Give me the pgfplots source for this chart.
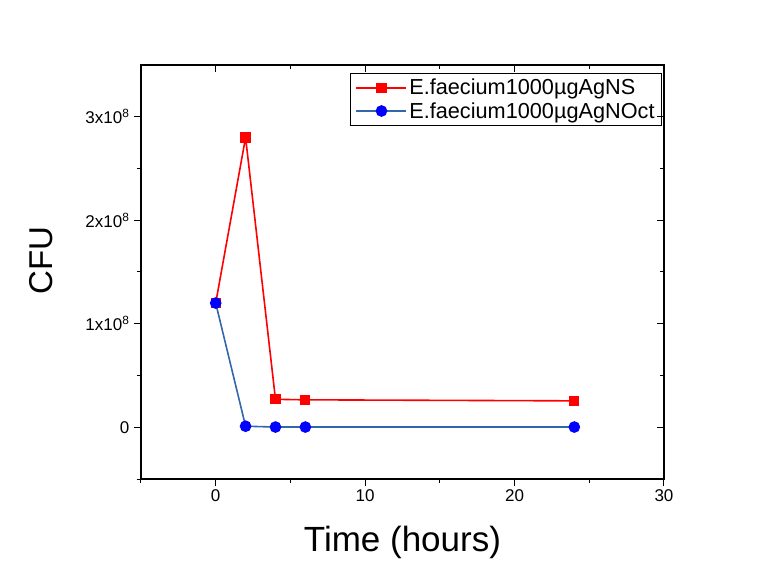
\documentclass[border=0pt]{standalone}
\usepackage{pgfplots}
\pgfplotsset{compat=1.18}
\usepackage{fontspec}
\setmainfont{Liberation Sans}
\setsansfont{Liberation Sans}
\definecolor{rline}{RGB}{255,0,0}
\definecolor{bline}{RGB}{51,102,170}
\definecolor{bmark}{RGB}{0,0,255}

\begin{document}
\begin{tikzpicture}
\useasboundingbox (0pt,0pt) rectangle (757pt,570pt);
% axis box: x 141..664, y(from bottom) 91..505 ; data (0,0) sits at (215.7,142.75)
\pgfplotsset{
  common/.style={
    at={(215.7pt,142.75pt)}, anchor=origin,
    scale only axis, width=523pt, height=414pt,
    xmin=-5, xmax=30, ymin=-0.5e8, ymax=3.5e8,
    xtick={0,10,20,30}, minor xtick={-5,5,15,25},
    ytick={0,1e8,2e8,3e8}, minor ytick={-0.5e8,0.5e8,1.5e8,2.5e8},
    axis line style={line width=1.2pt},
    major tick length=7pt, minor tick length=4pt,
    every tick/.style={black, line width=1pt},
    scaled y ticks=false,
  }
}
\begin{axis}[common,
  tick align=outside, xtick pos=bottom, ytick pos=left,
  /pgf/number format/assume math mode=true,
  tick label style={font=\fontsize{17}{20}\selectfont},
  yticklabel style={xshift=-1pt},
  yticklabels={0,1x10\textsuperscript{8},2x10\textsuperscript{8},3x10\textsuperscript{8}},
  xlabel={Time (hours)},
  ylabel={CFU},
  xlabel style={font=\fontsize{35}{40}\selectfont, at={(axis description cs:0.5,-0.176)}, anchor=base},
  ylabel style={font=\fontsize{33}{38}\selectfont, at={(axis description cs:-0.191,0.527)}, anchor=center},
  legend style={at={(axis description cs:0.996,0.981)}, anchor=north east,
    font=\fontsize{21.7}{24}\selectfont, draw=black, line width=0.6pt,
    inner xsep=5pt, inner ysep=4pt, row sep=2pt, cells={anchor=west}},
  legend image code/.code={%
    \draw[mark repeat=2,mark phase=2,#1,line width=1.6pt] plot coordinates {(0pt,0pt) (25pt,0pt) (50pt,0pt)};},
]
\addplot[color=rline, line width=1.6pt, mark=square*, mark size=4.3pt,
  mark options={fill=rline, draw=rline}]
  coordinates {(0,1.2e8) (2,2.8e8) (4,0.27e8) (6,0.265e8) (24,0.255e8)};
\addlegendentry{E.faecium1000µgAgNS}
\addplot[color=bline, line width=1.6pt, mark=*, mark size=5pt,
  mark options={fill=bmark, draw=bmark}]
  coordinates {(0,1.2e8) (2,0.01e8) (4,0.002e8) (6,0.002e8) (24,0.002e8)};
\addlegendentry{E.faecium1000µgAgNOct}
\end{axis}
\begin{axis}[common,
  tick align=inside, xtick pos=top, ytick pos=right,
  xticklabels={}, yticklabels={}, axis line style={draw=none},
]
\end{axis}
\end{tikzpicture}
\end{document}
